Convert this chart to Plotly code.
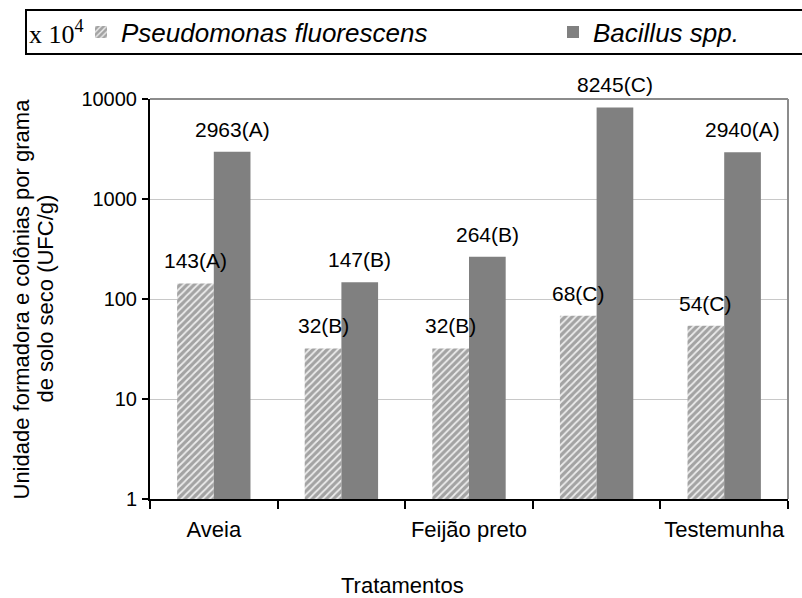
import math
import plotly.graph_objects as go

# ---------------- data ----------------
categories = ["Aveia", "", "Feijão preto", "", "Testemunha"]
series_names = ["Pseudomonas fluorescens", "Bacillus spp."]
pseudomonas = [143, 32, 32, 68, 54]
pseudomonas_groups = ["A", "B", "B", "C", "C"]
bacillus = [2963, 147, 264, 8245, 2940]
bacillus_groups = ["A", "B", "B", "C", "A"]
y_ticks = [1, 10, 100, 1000, 10000]
y_title_lines = ["Unidade formadora e colônias por grama", "de solo seco (UFC/g)"]
x_title = "Tratamentos"
legend_prefix = "x 10<sup>4</sup>"

# ---------------- layout constants ----------------
W, H = 802, 598
ML, MR, MT, MB = 150, 14, 99, 99
PW, PH = W - ML - MR, H - MT - MB
BARGAP = 0.425
SANS = "Liberation Sans, Arial, sans-serif"
SERIF = "Liberation Serif, Times New Roman, serif"


def px_x(p):
    return (p - ML) / PW


def px_y(p):
    return (H - MB - p) / PH


xs = list(range(len(categories)))

fig = go.Figure()
fig.add_bar(
    x=xs, y=pseudomonas, name="<i>%s</i>" % series_names[0], legend="legend",
    marker=dict(
        color="#a6a6a6",
        line=dict(width=0),
        pattern=dict(shape="/", fgcolor="#ececec", bgcolor="#a3a3a3",
                     size=5, solidity=0.35, fillmode="replace"),
    ),
)
fig.add_bar(
    x=xs, y=bacillus, name="<i>%s</i>" % series_names[1], legend="legend2",
    marker=dict(color="#808080", line=dict(width=0)),
)

annotations = []
half = (1 - BARGAP) / 4
for vals, groups, off in ((pseudomonas, pseudomonas_groups, -half),
                          (bacillus, bacillus_groups, half)):
    for i, (v, g) in enumerate(zip(vals, groups)):
        annotations.append(dict(
            x=i + off, y=math.log10(v), xref="x", yref="y",
            text="%d(%s)" % (v, g), showarrow=False,
            yanchor="bottom", xanchor="center", yshift=9,
            font=dict(family=SANS, size=21, color="black"),
        ))

# y-axis title (two lines)
for line, xp in zip(y_title_lines, (20.5, 44.5)):
    annotations.append(dict(
        x=px_x(xp), y=0.5, xref="paper", yref="paper", text=line,
        textangle=-90, showarrow=False, xanchor="center", yanchor="middle",
        font=dict(family=SANS, size=22, color="black"),
    ))
# x-axis title
annotations.append(dict(
    x=px_x(402), y=px_y(585), xref="paper", yref="paper", text=x_title,
    showarrow=False, xanchor="center", yanchor="middle",
    font=dict(family=SANS, size=22, color="black"),
))
# legend prefix "x 10^4"
annotations.append(dict(
    x=px_x(27), y=px_y(33), xref="paper", yref="paper", text=legend_prefix,
    showarrow=False, xanchor="left", yanchor="middle",
    font=dict(family=SERIF, size=26, color="black"),
))

shapes = [
    # legend frame
    dict(type="rect", xref="paper", yref="paper",
         x0=px_x(26), x1=px_x(806), y0=px_y(54), y1=px_y(10),
         line=dict(color="black", width=2), fillcolor="rgba(0,0,0,0)"),
    # plot area top / right border
    dict(type="line", xref="paper", yref="paper", x0=0, x1=1, y0=1, y1=1,
         line=dict(color="#8c8c8c", width=2)),
    dict(type="line", xref="paper", yref="paper", x0=1, x1=1, y0=0, y1=1,
         line=dict(color="#8c8c8c", width=2)),
]

legend_common = dict(
    orientation="h", xanchor="left", y=px_y(32), yanchor="middle",
    bgcolor="rgba(0,0,0,0)", borderwidth=0,
    font=dict(family=SANS, size=26, color="black"),
    itemclick=False, itemdoubleclick=False,
)

label_vals = [i for i, c in enumerate(categories) if c]
fig.update_layout(
    width=W, height=H,
    margin=dict(l=ML, r=MR, t=MT, b=MB, autoexpand=False),
    paper_bgcolor="white", plot_bgcolor="white",
    barmode="group", bargap=BARGAP, bargroupgap=0,
    font=dict(family=SANS, size=20, color="black"),
    showlegend=True,
    legend=dict(x=px_x(81), **legend_common),
    legend2=dict(x=px_x(553), **legend_common),
    xaxis=dict(
        range=[-0.5, len(categories) - 0.5],
        tickmode="array", tickvals=label_vals,
        ticktext=[categories[i] for i in label_vals],
        ticks="", showline=True, linecolor="black", linewidth=2,
        showgrid=False, zeroline=False, ticklabelstandoff=10,
        tickfont=dict(family=SANS, size=22, color="black"),
        minor=dict(tickmode="array",
                   tickvals=[i - 0.5 for i in range(len(categories) + 1)],
                   ticks="outside", ticklen=8, tickwidth=2, tickcolor="black",
                   showgrid=False),
        fixedrange=True,
    ),
    yaxis=dict(
        type="log", range=[0, 4],
        tickmode="array", tickvals=y_ticks, ticktext=[str(t) for t in y_ticks],
        ticks="outside", ticklen=6, tickwidth=2, tickcolor="black",
        showline=True, linecolor="black", linewidth=2,
        showgrid=True, gridcolor="#c8c8c8", gridwidth=1, zeroline=False,
        ticklabelstandoff=1,
        tickfont=dict(family=SANS, size=20, color="black"),
        fixedrange=True,
    ),
    annotations=annotations,
    shapes=shapes,
)

fig.write_html(
    "out.html",
    config={"displayModeBar": False},
    post_script="document.body.style.margin='0';document.body.style.padding='0';",
)
